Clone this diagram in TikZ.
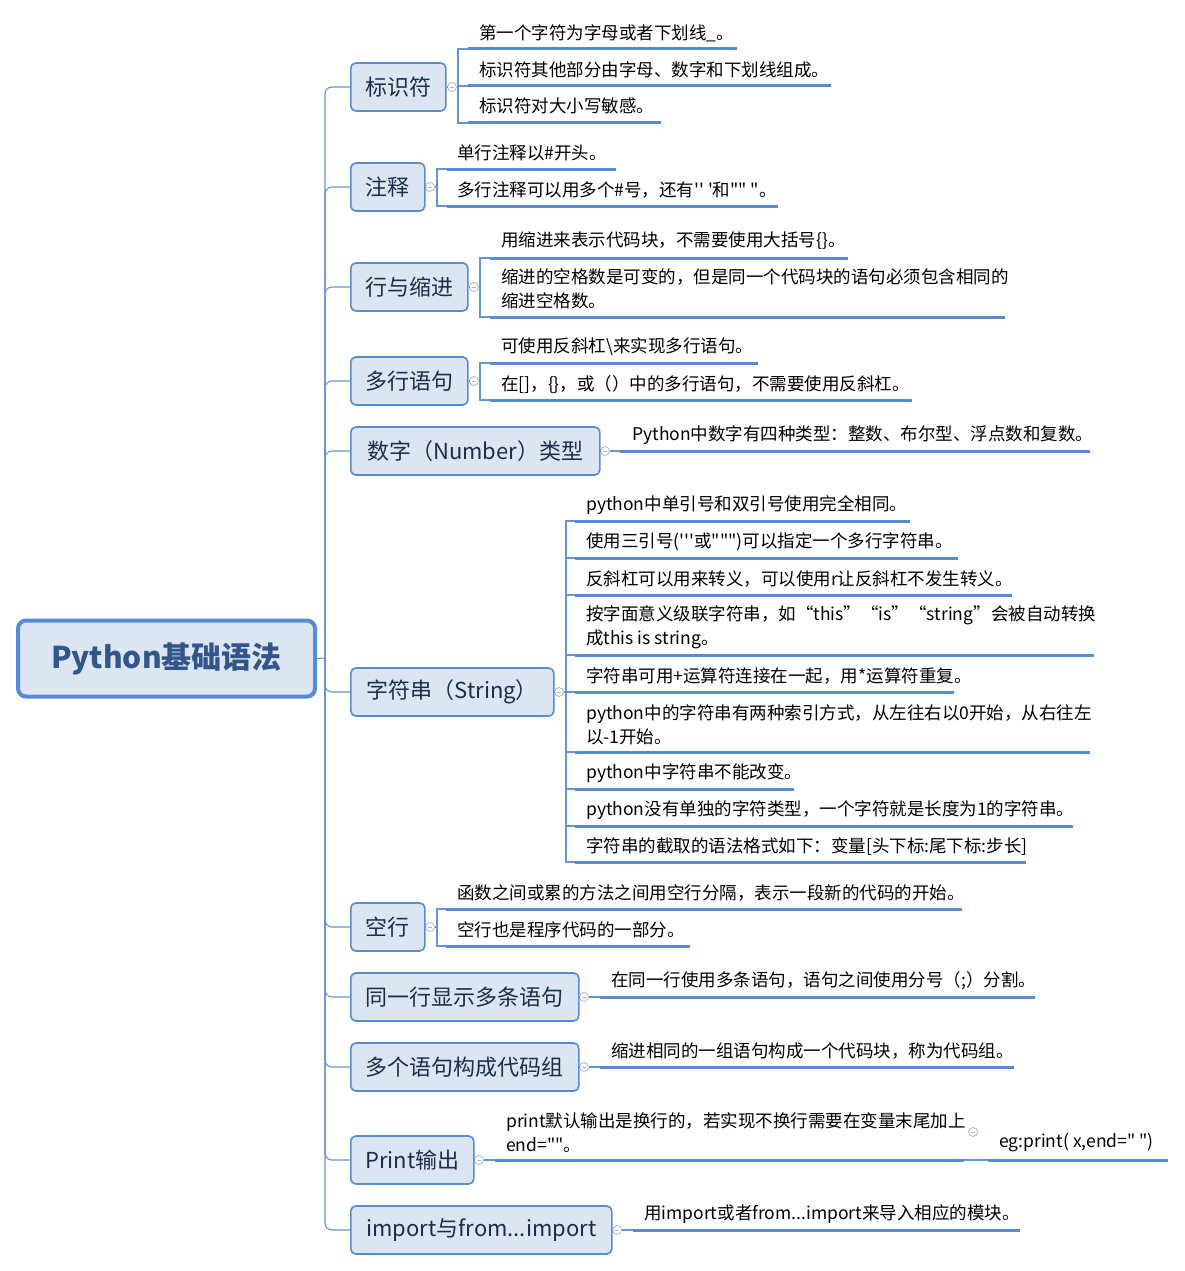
\documentclass[tikz,border=0pt]{standalone}
\usepackage{fontspec}
\newfontfamily\cjk{Noto Sans CJK SC}
\definecolor{nodefill}{RGB}{220,230,242}
\definecolor{nodeborder}{RGB}{88,140,210}
\definecolor{ulinecolor}{RGB}{88,140,210}
\definecolor{linkcolor}{RGB}{105,148,212}
\definecolor{topictext}{RGB}{28,45,75}
\definecolor{roottext}{RGB}{50,85,140}
\definecolor{iconcolor}{RGB}{170,187,218}
\tikzset{
  topic/.style={draw=nodeborder, line width=1.6pt, fill=nodefill, rounded corners=5pt,
    minimum height=48pt, anchor=west, inner sep=0pt, text=topictext,
    font=\cjk\fontsize{22}{26}\selectfont},
  rootnode/.style={draw=nodeborder, line width=4pt, fill=nodefill, rounded corners=8pt,
    inner sep=0pt, text=roottext, font=\cjk\bfseries\fontsize{30}{36}\selectfont},
  leaf/.style={anchor=west, inner sep=0pt, align=left, text=black,
    font=\cjk\fontsize{17.5}{24}\selectfont},
  uline/.style={draw=ulinecolor, line width=3pt},
  link/.style={draw=linkcolor, line width=1.1pt},
  trunk/.style={link, rounded corners=7pt},
  icon/.style={circle, draw=iconcolor, fill=white, line width=0.8pt, minimum size=9pt,
    inner sep=0pt, path picture={\draw[iconcolor, line width=0.8pt]
      ([xshift=-2.4pt]path picture bounding box.center) --
      ([xshift=2.4pt]path picture bounding box.center);}},
}
\begin{document}
\begin{tikzpicture}[x=1pt, y=-1pt]
\fill[white] (0,0) rectangle (1185,1271);
\useasboundingbox (0,0) rectangle (1185,1271);

% root
\node[rootnode, minimum width=297pt, minimum height=76pt] (root) at (166.5,658.5) {Python基础语法};
\coordinate (hub) at (325,658);

% topics
\node[topic, minimum width=95pt]  (t1)  at (350,87)   {标识符};
\node[topic, minimum width=74pt]  (t2)  at (350,187)  {注释};
\node[topic, minimum width=117pt] (t3)  at (350,287)  {行与缩进};
\node[topic, minimum width=117pt] (t4)  at (350,381)  {多行语句};
\node[topic, minimum width=249pt] (t5)  at (350,451)  {数字（Number）类型};
\node[topic, minimum width=203pt] (t6)  at (350,692)  {字符串（String）};
\node[topic, minimum width=74pt]  (t7)  at (350,927)  {空行};
\node[topic, minimum width=228pt] (t8)  at (350,997)  {同一行显示多条语句};
\node[topic, minimum width=228pt] (t9)  at (350,1067) {多个语句构成代码组};
\node[topic, minimum width=123pt] (t10) at (350,1160) {Print输出};
\node[topic, minimum width=261pt] (t11) at (350,1230) {import与from...import};

% trunk
\draw[link] (root.east) -- (hub);
\foreach \t in {t1,t2,t3,t4,t5,t6,t7,t8,t9,t10,t11}
  \draw[trunk] (hub) |- (\t.west);

% icons
\node[icon] (i1)  at (452,87)   {};
\node[icon] (i2)  at (430,187)  {};
\node[icon] (i3)  at (474,287)  {};
\node[icon] (i4)  at (474,381)  {};
\node[icon] (i5)  at (605,451)  {};
\node[icon] (i6)  at (559,692)  {};
\node[icon] (i7)  at (430,927)  {};
\node[icon] (i8)  at (584,997)  {};
\node[icon] (i9)  at (584,1067) {};
\node[icon] (i10) at (479,1160) {};
\node[icon] (i11) at (617,1230) {};
\node[icon] (i12) at (973,1132) {};
\foreach \k in {1,...,11}
  \draw[link] (t\k.east) -- (i\k);

% ---- branch 1
\coordinate (b1) at (458,87);
\coordinate (s11) at (468,49);  \coordinate (e11) at (737,49);
\coordinate (s12) at (468,86);  \coordinate (e12) at (831,86);
\coordinate (s13) at (468,123); \coordinate (e13) at (661,123);
\draw[link] (i1) -- (b1);
\draw[link] (s11) -| (b1) |- (s13);
\draw[link] (b1|-s12) -- (s12);
\draw[uline] (s11) -- (e11); \draw[uline] (s12) -- (e12); \draw[uline] (s13) -- (e13);
\node[leaf] (l11) at (479,33)  {第一个字符为字母或者下划线\_。};
\node[leaf] (l12) at (479,70)  {标识符其他部分由字母、数字和下划线组成。};
\node[leaf] (l13) at (479,106) {标识符对大小写敏感。};

% ---- branch 2
\coordinate (b2) at (437,187);
\coordinate (s21) at (447,169); \coordinate (e21) at (616,169);
\coordinate (s22) at (447,206); \coordinate (e22) at (778,206);
\draw[link] (i2) -- (b2);
\draw[link] (s21) -| (b2) |- (s22);
\draw[uline] (s21) -- (e21); \draw[uline] (s22) -- (e22);
\node[leaf] (l21) at (457,153) {单行注释以\#开头。};
\node[leaf] (l22) at (457,190) {多行注释可以用多个\#号，还有'' '和"" "。};

% ---- branch 3
\coordinate (b3) at (480,287);
\coordinate (s31) at (490,258); \coordinate (e31) at (848,258);
\coordinate (s32) at (490,317); \coordinate (e32) at (1005,317);
\draw[link] (i3) -- (b3);
\draw[link] (s31) -| (b3) |- (s32);
\draw[uline] (s31) -- (e31); \draw[uline] (s32) -- (e32);
\node[leaf] (l31) at (501,241) {用缩进来表示代码块，不需要使用大括号\{\}。};
\node[leaf] (l32) at (501,289) {缩进的空格数是可变的，但是同一个代码块的语句必须包含相同的\\缩进空格数。};

% ---- branch 4
\coordinate (b4) at (480,381);
\coordinate (s41) at (490,363); \coordinate (e41) at (758,363);
\coordinate (s42) at (490,400); \coordinate (e42) at (912,400);
\draw[link] (i4) -- (b4);
\draw[link] (s41) -| (b4) |- (s42);
\draw[uline] (s41) -- (e41); \draw[uline] (s42) -- (e42);
\node[leaf] (l41) at (501,347) {可使用反斜杠\textbackslash 来实现多行语句。};
\node[leaf] (l42) at (501,384) {在[]，\{\}，或（）中的多行语句，不需要使用反斜杠。};

% ---- branch 5
\coordinate (s51) at (620,451); \coordinate (e51) at (1090,451);
\draw[link] (i5) -- (s51);
\draw[uline] (s51) -- (e51);
\node[leaf] (l51) at (632,435) {Python中数字有四种类型：整数、布尔型、浮点数和复数。};

% ---- branch 6
\coordinate (b6) at (566,692);
\coordinate (s61) at (575,521); \coordinate (e61) at (910,521);
\coordinate (s62) at (575,558); \coordinate (e62) at (958,558);
\coordinate (s63) at (575,595); \coordinate (e63) at (1012,595);
\coordinate (s64) at (575,655); \coordinate (e64) at (1094,655);
\coordinate (s65) at (575,692); \coordinate (e65) at (954,692);
\coordinate (s66) at (575,752); \coordinate (e66) at (1090,752);
\coordinate (s67) at (575,789); \coordinate (e67) at (794,789);
\coordinate (s68) at (575,826); \coordinate (e68) at (1073,826);
\coordinate (s69) at (575,862); \coordinate (e69) at (1026,862);
\draw[link] (i6) -- (b6);
\draw[link] (s61) -| (b6) |- (s69);
\foreach \k in {2,...,8} \draw[link] (b6|-s6\k) -- (s6\k);
\foreach \k in {1,...,9} \draw[uline] (s6\k) -- (e6\k);
\node[leaf] (l61) at (586,505) {python中单引号和双引号使用完全相同。};
\node[leaf] (l62) at (586,542) {使用三引号('''或""")可以指定一个多行字符串。};
\node[leaf] (l63) at (586,579) {反斜杠可以用来转义，可以使用r让反斜杠不发生转义。};
\node[leaf] (l64) at (586,627.5) {按字面意义级联字符串，如“this”“is”“string”会被自动转换\\成this is string。};
\node[leaf] (l65) at (586,676) {字符串可用+运算符连接在一起，用*运算符重复。};
\node[leaf] (l66) at (586,724.5) {python中的字符串有两种索引方式，从左往右以0开始，从右往左\\以-1开始。};
\node[leaf] (l67) at (586,773) {python中字符串不能改变。};
\node[leaf] (l68) at (586,810) {python没有单独的字符类型，一个字符就是长度为1的字符串。};
\node[leaf] (l69) at (586,847) {字符串的截取的语法格式如下：变量[头下标:尾下标:步长]};

% ---- branch 7
\coordinate (b7) at (437,927);
\coordinate (s71) at (446,909); \coordinate (e71) at (962,909);
\coordinate (s72) at (446,946); \coordinate (e72) at (690,946);
\draw[link] (i7) -- (b7);
\draw[link] (s71) -| (b7) |- (s72);
\draw[uline] (s71) -- (e71); \draw[uline] (s72) -- (e72);
\node[leaf] (l71) at (457,893) {函数之间或累的方法之间用空行分隔，表示一段新的代码的开始。};
\node[leaf] (l72) at (457,930) {空行也是程序代码的一部分。};

% ---- branch 8
\coordinate (s81) at (600,997); \coordinate (e81) at (1035,997);
\draw[link] (i8) -- (s81);
\draw[uline] (s81) -- (e81);
\node[leaf] (l81) at (611,981) {在同一行使用多条语句，语句之间使用分号（;）分割。};

% ---- branch 9
\coordinate (s91) at (600,1067); \coordinate (e91) at (1014,1067);
\draw[link] (i9) -- (s91);
\draw[uline] (s91) -- (e91);
\node[leaf] (l91) at (611,1051) {缩进相同的一组语句构成一个代码块，称为代码组。};

% ---- branch 10
\coordinate (s101) at (495,1160); \coordinate (e101) at (964,1160);
\coordinate (s102) at (988,1160); \coordinate (e102) at (1168,1160);
\draw[link] (i10) -- (s101);
\draw[uline] (s101) -- (e101);
\draw[link] (e101) -- (s102);
\draw[uline] (s102) -- (e102);
\node[leaf] (l101) at (506,1132.5) {print默认输出是换行的，若实现不换行需要在变量末尾加上\\end=""。};
\node[leaf] (l102) at (999,1143) {eg:print( x,end=" ")};

% ---- branch 11
\coordinate (s111) at (633,1230); \coordinate (e111) at (1020,1230);
\draw[link] (i11) -- (s111);
\draw[uline] (s111) -- (e111);
\node[leaf] (l111) at (644,1214) {用import或者from...import来导入相应的模块。};
\end{tikzpicture}
\end{document}
